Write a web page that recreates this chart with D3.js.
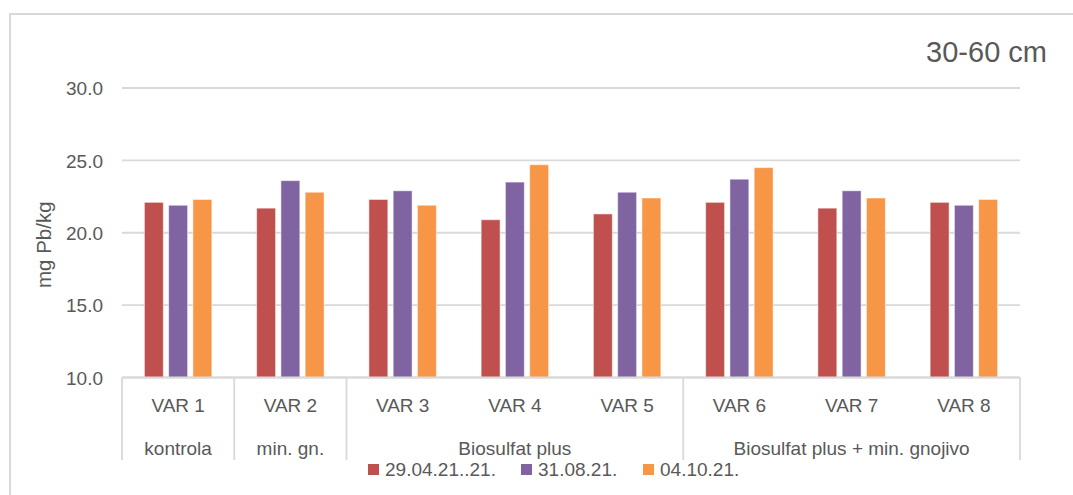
<!DOCTYPE html>
<html>
<head>
<meta charset="utf-8">
<script src="https://cdn.jsdelivr.net/npm/d3@7"></script>
<style>
  html, body { margin: 0; padding: 0; background: #fff; }
  svg { display: block; }
  text { font-family: "Liberation Sans", Arial, sans-serif; fill: #595959; }
</style>
</head>
<body>
<svg id="chart" width="1073" height="495"></svg>
<script>
// ---- data ----
const categories = ["VAR 1", "VAR 2", "VAR 3", "VAR 4", "VAR 5", "VAR 6", "VAR 7", "VAR 8"];
const groups = [
  { label: "kontrola", from: 0, to: 0 },
  { label: "min. gn.", from: 1, to: 1 },
  { label: "Biosulfat plus", from: 2, to: 4 },
  { label: "Biosulfat plus + min. gnojivo", from: 5, to: 7 }
];
const seriesNames = ["29.04.21..21.", "31.08.21.", "04.10.21."];
const seriesColors = ["#C0504D", "#8064A2", "#F79646"];
const s1 = [22.1, 21.7, 22.3, 20.9, 21.3, 22.1, 21.7, 22.1];
const s2 = [21.9, 23.6, 22.9, 23.5, 22.8, 23.7, 22.9, 21.9];
const s3 = [22.3, 22.8, 21.9, 24.7, 22.4, 24.5, 22.4, 22.3];
const seriesValues = [s1, s2, s3];
const yTicks = [10, 15, 20, 25, 30];
const yLabel = "mg Pb/kg";
const title = "30-60 cm";

// ---- layout ----
const svg = d3.select("#chart");
const plot = { left: 122, right: 1020, top: 88, bottom: 377.5 };

// chart border
svg.append("rect")
  .attr("x", 10).attr("y", 14)
  .attr("width", 1100).attr("height", 520)
  .attr("fill", "none").attr("stroke", "#D9D9D9").attr("stroke-width", 2);

const x0 = d3.scaleBand().domain(categories).range([plot.left, plot.right]).padding(0);
const pad = 22.4;
const x1 = d3.scaleBand().domain(seriesNames).range([pad, x0.bandwidth() - pad]).paddingInner(0.22);
const y = d3.scaleLinear().domain([10, 30]).range([plot.bottom, plot.top]);

// gridlines
svg.append("g").selectAll("line").data(yTicks).join("line")
  .attr("x1", plot.left).attr("x2", plot.right)
  .attr("y1", d => y(d)).attr("y2", d => y(d))
  .attr("stroke", "#D9D9D9").attr("stroke-width", 1.8);

// y tick labels
const yAxis = d3.axisLeft(y).tickValues(yTicks).tickFormat(d3.format(".1f")).tickSize(0).tickPadding(0);
const yg = svg.append("g").attr("transform", `translate(${plot.left - 19},0)`).call(yAxis);
yg.select(".domain").remove();
yg.selectAll("text").attr("font-size", 19).attr("fill", "#595959")
  .attr("font-family", '"Liberation Sans", Arial, sans-serif').attr("dy", "0.36em");

// y label
svg.append("text")
  .attr("transform", `translate(51,${(plot.top + plot.bottom) / 2 + 12}) rotate(-90)`)
  .attr("text-anchor", "middle").attr("font-size", 20.5).text(yLabel);

// bars
const barData = [];
categories.forEach((c, i) => {
  seriesNames.forEach((s, j) => barData.push({ cat: c, series: s, value: seriesValues[j][i], color: seriesColors[j] }));
});
svg.append("g").selectAll("rect").data(barData).join("rect")
  .attr("x", d => x0(d.cat) + x1(d.series))
  .attr("width", x1.bandwidth())
  .attr("y", d => y(d.value))
  .attr("height", d => y(10) - y(d.value))
  .attr("fill", d => d.color)
  .attr("stroke", "#ffffff").attr("stroke-opacity", 0.5).attr("stroke-width", 1);

// x axis line
svg.append("line")
  .attr("x1", plot.left).attr("x2", plot.right)
  .attr("y1", plot.bottom).attr("y2", plot.bottom)
  .attr("stroke", "#D9D9D9").attr("stroke-width", 1.8);

// category labels
const xAxis = d3.axisBottom(x0).tickSize(0).tickPadding(0);
const xg = svg.append("g").attr("transform", `translate(0,${plot.bottom})`).call(xAxis);
xg.select(".domain").remove();
xg.selectAll("text").attr("font-size", 19).attr("fill", "#595959")
  .attr("font-family", '"Liberation Sans", Arial, sans-serif')
  .attr("dy", 0).attr("y", 34.5);

// group separators
const sepX = [plot.left].concat(groups.map(g => x0(categories[g.to]) + x0.bandwidth()));
svg.append("g").selectAll("line").data(sepX).join("line")
  .attr("x1", d => d).attr("x2", d => d)
  .attr("y1", plot.bottom).attr("y2", 460)
  .attr("stroke", "#D9D9D9").attr("stroke-width", 1.8);

// group labels
svg.append("g").selectAll("text").data(groups).join("text")
  .attr("x", g => (x0(categories[g.from]) + x0(categories[g.to]) + x0.bandwidth()) / 2)
  .attr("y", 455)
  .attr("text-anchor", "middle").attr("font-size", 19)
  .text(g => g.label);

// legend
const legendX = [368, 521, 643];
const lg = svg.append("g").selectAll("g").data(seriesNames).join("g")
  .attr("transform", (d, i) => `translate(${legendX[i]},464)`);
lg.append("rect").attr("width", 11).attr("height", 11).attr("fill", (d, i) => seriesColors[i]);
lg.append("text").attr("x", 17).attr("y", 12).attr("font-size", 19).text(d => d);

// title
svg.append("text")
  .attr("x", 1047).attr("y", 62)
  .attr("text-anchor", "end")
  .attr("font-family", '"Open Sans", "Noto Sans", sans-serif')
  .attr("font-size", 29).attr("fill", "#595959")
  .text(title);
</script>
</body>
</html>
